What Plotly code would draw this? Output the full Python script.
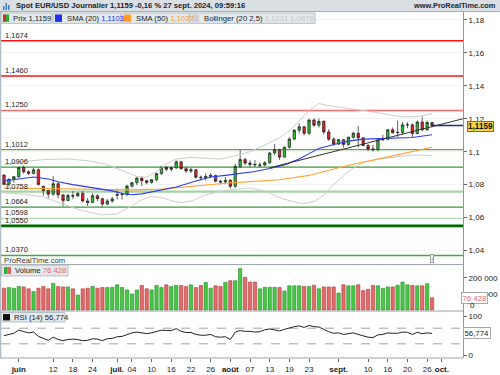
import numpy as np
import pandas as pd
import plotly.graph_objects as go

# ---------------- data ----------------
dates = pd.bdate_range("2024-05-29", "2024-09-27")

opens = [1.0858,1.0802,1.0833,1.0848,1.0904,1.0878,1.0868,1.0890,1.0790,1.0765,
         1.0742,1.0806,1.0738,1.0703,1.0734,1.0731,1.0747,1.0701,1.0692,1.0733,
         1.0715,1.0682,1.0701,1.0735,1.0740,1.0742,1.0791,1.0812,1.0840,1.0824,
         1.0813,1.0830,1.0867,1.0906,1.0893,1.0902,1.0938,1.0897,1.0883,1.0890,
         1.0845,1.0842,1.0850,1.0856,1.0821,1.0816,1.0826,1.0790,1.0911,1.0952,
         1.0931,1.0923,1.0917,1.0919,1.0933,1.0992,1.1012,1.0967,1.1027,1.1077,
         1.1130,1.1151,1.1112,1.1192,1.1161,1.1184,1.1120,1.1076,1.1047,1.1073,
         1.1044,1.1088,1.1112,1.1084,1.1038,1.1017,1.1012,1.1073,1.1076,1.1133,
         1.1116,1.1117,1.1163,1.1163,1.1110,1.1180,1.1133,1.1177]
highs = [1.0862,1.0838,1.0852,1.0908,1.0916,1.0888,1.0902,1.0898,1.0794,1.0768,
         1.0852,1.0815,1.0740,1.0745,1.0761,1.0752,1.0761,1.0719,1.0748,1.0740,
         1.0720,1.0712,1.0725,1.0776,1.0752,1.0800,1.0816,1.0845,1.0845,1.0829,
         1.0833,1.0872,1.0910,1.0910,1.0910,1.0948,1.0944,1.0906,1.0900,1.0894,
         1.0855,1.0869,1.0870,1.0860,1.0830,1.0846,1.0834,1.0926,1.1009,1.0962,
         1.0948,1.0949,1.0935,1.0942,1.0998,1.1047,1.1018,1.1030,1.1088,1.1137,
         1.1174,1.1156,1.1201,1.1202,1.1202,1.1190,1.1137,1.1088,1.1077,1.1077,
         1.1090,1.1120,1.1155,1.1086,1.1046,1.1042,1.1078,1.1102,1.1137,1.1147,
         1.1189,1.1180,1.1180,1.1172,1.1189,1.1214,1.1190,1.1180]
lows = [1.0796,1.0788,1.0812,1.0840,1.0866,1.0858,1.0862,1.0795,1.0732,1.0716,
        1.0733,1.0718,1.0668,1.0700,1.0712,1.0728,1.0694,1.0671,1.0688,1.0700,
        1.0666,1.0676,1.0690,1.0710,1.0710,1.0730,1.0782,1.0798,1.0791,1.0802,
        1.0806,1.0820,1.0860,1.0881,1.0880,1.0894,1.0890,1.0871,1.0870,1.0837,
        1.0825,1.0825,1.0840,1.0814,1.0801,1.0802,1.0776,1.0780,1.0900,1.0918,
        1.0906,1.0908,1.0905,1.0912,1.0926,1.0980,1.0950,1.0966,1.1018,1.1070,
        1.1110,1.1100,1.1100,1.1151,1.1146,1.1104,1.1066,1.1034,1.1040,1.1026,
        1.1036,1.1078,1.1026,1.1033,1.1003,1.1002,1.1003,1.1064,1.1072,1.1108,
        1.1090,1.1102,1.1142,1.1083,1.1106,1.1122,1.1128,1.1148]
closes = [1.0802,1.0833,1.0848,1.0904,1.0878,1.0868,1.0890,1.0801,1.0765,1.0742,
          1.0806,1.0738,1.0703,1.0734,1.0731,1.0747,1.0701,1.0692,1.0733,1.0715,
          1.0682,1.0701,1.0713,1.0740,1.0742,1.0791,1.0812,1.0840,1.0824,1.0813,
          1.0830,1.0867,1.0906,1.0893,1.0902,1.0938,1.0897,1.0883,1.0890,1.0845,
          1.0842,1.0850,1.0856,1.0821,1.0816,1.0826,1.0790,1.0911,1.0952,1.0931,
          1.0923,1.0921,1.0919,1.0933,1.0992,1.1012,1.0967,1.1027,1.1077,1.1130,
          1.1151,1.1112,1.1192,1.1161,1.1184,1.1120,1.1076,1.1047,1.1073,1.1044,
          1.1088,1.1112,1.1084,1.1038,1.1017,1.1012,1.1073,1.1076,1.1133,1.1116,
          1.1117,1.1163,1.1163,1.1110,1.1180,1.1133,1.1177,1.1159]
volumes = [136000,140000,136000,147000,144000,132000,115000,136000,147000,132000,
           166000,147000,144000,144000,132000,93000,132000,136000,147000,136000,
           140000,140000,142000,157000,140000,125000,100000,125000,153000,132000,
           125000,153000,140000,157000,147000,153000,153000,147000,157000,140000,
           153000,172000,136000,151000,147000,172000,183000,183000,259000,204000,
           174000,174000,132000,142000,142000,142000,140000,119000,151000,151000,
           151000,147000,147000,155000,132000,144000,144000,144000,106000,157000,
           151000,151000,157000,121000,129000,153000,151000,134000,144000,144000,
           155000,174000,157000,153000,151000,151000,164000,76428]
rsi = [51,54,57,65,61,58,60,49,44,39,
       47,41,38,41,42,41,38,39,43,42,
       38,43,44,48,49,54,58,60,58,56,
       58,62,65,64,64,69,62,59,59,54,
       52,52,54,48,47,48,41,60,64,62,
       62,60,61,66,68,66,63,67,71,74,
       76,72,77,74,73,66,61,57,58,54,
       56,58,54,50,47,46,53,54,58,57,
       57,60,59.5,54,59.5,56,58,56.774]

sma20_i = [0,3,6,9,11,14,16,19,22,24,26,28,32,35,39,42,45,48,51,54,57,60,62,64,67,70,73,76,80,83,87]
sma20_v = [1.0822,1.0836,1.0846,1.0834,1.0818,1.0800,1.0790,1.0776,1.0762,1.0746,1.0739,1.0744,1.0768,1.0786,1.0822,1.0846,1.0856,1.0866,1.0880,1.0898,1.0920,1.0955,1.0985,1.1020,1.1044,1.1064,1.1076,1.1080,1.1082,1.1086,1.1103]
sma50_i = [0,10,20,26,32,38,45,50,56,62,66,70,76,82,87]
sma50_v = [1.0780,1.0776,1.0770,1.0768,1.0773,1.0790,1.0808,1.0818,1.0830,1.0856,1.0885,1.0918,1.0955,1.0992,1.1027]
bbu_i = [0,4,8,13,17,21,24,27,29,31,33,35,38,41,44,47,50,53,56,58,60,62,64,66,70,74,78,81,84,87]
bbu_v = [1.0920,1.0940,1.0952,1.0956,1.0945,1.0922,1.0885,1.0850,1.0845,1.0880,1.0925,1.0955,1.0965,1.0958,1.0955,1.0975,1.1000,1.1040,1.1085,1.1125,1.1190,1.1250,1.1292,1.1280,1.1262,1.1246,1.1225,1.1212,1.1212,1.1231]
bbl_i = [0,4,8,12,15,18,20,23,26,28,30,32,34,36,38,41,44,47,50,53,56,59,61,63,65,67,70,73,76,80,83,87]
bbl_v = [1.0750,1.0742,1.0725,1.0680,1.0650,1.0628,1.0616,1.0622,1.0672,1.0708,1.0728,1.0722,1.0703,1.0690,1.0700,1.0738,1.0758,1.0772,1.0780,1.0762,1.0720,1.0695,1.0684,1.0698,1.0735,1.0800,1.0880,1.0935,1.0955,1.0970,1.0980,1.0976]
trend_i = [54, 93.3]
trend_v = [1.0902, 1.1200]

levels = [1.1674, 1.1460, 1.1250, 1.1012, 1.0906, 1.0758, 1.0664, 1.0598, 1.0550, 1.0370]
level_colors = ["#ff1010", "#ff1010", "#ff6a6a", "#5aaa4a", "#3a9a3a", "#a5d2a5", "#3a9a3a", "#b5dcb5", "#006a00", "#44aa44"]
level_widths = [1.5, 1.5, 1.3, 1.3, 1.3, 2.2, 1.3, 2.0, 2.6, 1.3]
price_ticks = [1.04, 1.06, 1.08, 1.10, 1.12, 1.14, 1.16, 1.18]
vol_ticks = [100000, 200000]
rsi_ticks = [0, 100]
rsi_levels = [70, 30]

tick_dates = ["2024-06-03","2024-06-12","2024-06-18","2024-06-24","2024-07-01","2024-07-04",
              "2024-07-10","2024-07-16","2024-07-22","2024-07-26","2024-08-01","2024-08-07",
              "2024-08-13","2024-08-19","2024-08-23","2024-09-02","2024-09-10","2024-09-16",
              "2024-09-20","2024-09-26","2024-10-01"]
tick_text = ["<b>juin</b>","12","18","24","<b>juil.</b>","04","10","16","22","26","<b>août</b>",
             "07","13","19","23","<b>sept.</b>","10","16","20","26","<b>oct.</b>"]

sma20_last, sma50_last, bbu_last, bbl_last = 1.1103, 1.1027, 1.1231, 1.0976

# ---------------- geometry helpers ----------------
W, H = 500, 375
ML, MR, MT, MB = 1, 37, 12, 13
PW, PH = W - ML - MR, H - MT - MB
def fx(px):
    return (px - ML) / PW
def fy(py):
    return (H - MB - py) / PH

idx = np.arange(len(dates))
tick_pos = [int(np.busday_count(dates[0].date(), pd.Timestamp(d).date())) for d in tick_dates]
XR = [-0.61, 93.29]

def fr(v, n=4):
    return f"{v:.{n}f}".replace(".", ",")

FONT = "Liberation Sans, Arial, DejaVu Sans, sans-serif"
TXT = "#222222"

fig = go.Figure()

# Bollinger
fig.add_trace(go.Scatter(x=bbu_i, y=bbu_v, mode="lines", line=dict(color="#cdcdcd", width=1),
                         xaxis="x", yaxis="y", hoverinfo="skip", showlegend=False))
fig.add_trace(go.Scatter(x=bbl_i, y=bbl_v, mode="lines", line=dict(color="#cdcdcd", width=1),
                         xaxis="x", yaxis="y", hoverinfo="skip", showlegend=False))
# SMA 50 / 20
fig.add_trace(go.Scatter(x=sma50_i, y=sma50_v, mode="lines", line=dict(color="#ffa433", width=1.1),
                         xaxis="x", yaxis="y", hoverinfo="skip", showlegend=False))
fig.add_trace(go.Scatter(x=sma20_i, y=sma20_v, mode="lines", line=dict(color="#2b3cf0", width=1.1),
                         xaxis="x", yaxis="y", hoverinfo="skip", showlegend=False))
# trend line
fig.add_trace(go.Scatter(x=trend_i, y=trend_v, mode="lines", line=dict(color="#333333", width=1),
                         xaxis="x", yaxis="y", hoverinfo="skip", showlegend=False))
# candles
fig.add_trace(go.Candlestick(x=idx, open=opens, high=highs, low=lows, close=closes,
                             increasing=dict(fillcolor="#2fc02f", line=dict(color="#1c1c1c", width=0.7)),
                             decreasing=dict(fillcolor="#e22626", line=dict(color="#1c1c1c", width=0.7)),
                             whiskerwidth=0, xaxis="x", yaxis="y", hoverinfo="skip", showlegend=False))
# volume
up = [c >= o for o, c in zip(opens, closes)]
fig.add_trace(go.Bar(x=idx, y=volumes,
                     marker=dict(color=["#46c846" if u else "#e36a6a" for u in up],
                                 line=dict(color=["#2a8a2a" if u else "#b03a3a" for u in up], width=0.6)),
                     xaxis="x2", yaxis="y2", hoverinfo="skip", showlegend=False))
# RSI
fig.add_trace(go.Scatter(x=idx, y=rsi, mode="lines", line=dict(color="#222222", width=1),
                         xaxis="x3", yaxis="y3", hoverinfo="skip", showlegend=False))

shapes = []
annotations = []

# horizontal support / resistance levels
for lv, col, lw in zip(levels, level_colors, level_widths):
    shapes.append(dict(type="line", xref="paper", yref="y", x0=0, x1=1, y0=lv, y1=lv,
                       line=dict(color=col, width=lw), layer="below"))
    annotations.append(dict(xref="paper", yref="y", x=fx(3), y=lv, text=fr(lv), showarrow=False,
                            xanchor="left", yanchor="bottom", yshift=-1,
                            font=dict(size=7.5, color=TXT, family=FONT)))
# RSI dashed levels
for lv in rsi_levels:
    shapes.append(dict(type="line", xref="paper", yref="y3", x0=0, x1=1, y0=lv, y1=lv,
                       line=dict(color="#8a8a8a", width=0.8, dash="dash"), layer="below"))
# last price line
shapes.append(dict(type="line", xref="x", yref="y", x0=idx[-1], x1=XR[1], y0=closes[-1], y1=closes[-1],
                   line=dict(color="#1a2b99", width=1.5)))

# panel borders
for py in [267.5, 314.5, 362]:
    shapes.append(dict(type="line", xref="paper", yref="paper", x0=fx(0), x1=fx(463), y0=fy(py), y1=fy(py),
                       line=dict(color="#9aa4aa", width=1)))
shapes.append(dict(type="line", xref="paper", yref="paper", x0=fx(0.5), x1=fx(0.5), y0=fy(362), y1=fy(11),
                   line=dict(color="#b0bcc4", width=1.5)))

# header bar
shapes.append(dict(type="rect", xref="paper", yref="paper", x0=fx(-2), x1=fx(502), y0=fy(11.5), y1=fy(-2),
                   fillcolor="#d9dfe3", line=dict(width=0)))
shapes.append(dict(type="line", xref="paper", yref="paper", x0=fx(-2), x1=fx(502), y0=fy(11.5), y1=fy(11.5),
                   line=dict(color="#a4aeb4", width=1)))
for bx0, bx1, by0 in [(3, 4.5, 6), (5.5, 7, 3), (8, 9.5, 5)]:
    shapes.append(dict(type="rect", xref="paper", yref="paper", x0=fx(bx0), x1=fx(bx1), y0=fy(10), y1=fy(by0),
                       fillcolor="#3a7ed8", line=dict(width=0)))
chg = (closes[-1] - closes[-2]) / closes[-2] * 100
annotations.append(dict(xref="paper", yref="paper", x=fx(14), y=fy(5.8), xanchor="left", yanchor="middle",
                        text=f"<b>Spot EUR/USD Journalier {fr(closes[-1])} {fr(chg, 2)} % 27 sept. 2024, 09:59:16</b>",
                        showarrow=False, font=dict(size=7.6, color="#1c2430", family=FONT)))
annotations.append(dict(xref="paper", yref="paper", x=fx(498), y=fy(5.8), xanchor="right", yanchor="middle",
                        text="<b>www.ProRealTime.com</b>", showarrow=False,
                        font=dict(size=7.4, color="#1c2430", family=FONT)))

# legend boxes (top)
def box(x0, x1, y0, y1):
    shapes.append(dict(type="rect", xref="paper", yref="paper", x0=fx(x0), x1=fx(x1), y0=fy(y1), y1=fy(y0),
                       fillcolor="#e3e9ed", line=dict(color="#b4bec4", width=1)))
def icon(x0, x1, y0, y1, col):
    shapes.append(dict(type="rect", xref="paper", yref="paper", x0=fx(x0), x1=fx(x1), y0=fy(y1), y1=fy(y0),
                       fillcolor=col, line=dict(width=0)))
def label(x, y, text):
    annotations.append(dict(xref="paper", yref="paper", x=fx(x), y=fy(y), xanchor="left", yanchor="middle",
                            text=text, showarrow=False, font=dict(size=7.7, color=TXT, family=FONT)))

box(1, 52, 13, 23.5); icon(3, 6, 14.5, 22, "#d92a2a"); icon(6, 9, 14.5, 22, "#2eae2e")
label(11, 18.5, f"Prix {fr(closes[-1])}")
box(53, 121, 13, 23.5); icon(55, 62, 14.5, 22, "#1f2ff0")
label(65, 18.5, f"SMA (20) <span style='color:#2030ee'>{fr(sma20_last)}</span>")
box(122, 189, 13, 23.5); icon(124, 131, 14.5, 22, "#ff9a22")
label(134, 18.5, f"SMA (50) <span style='color:#f59a2a'>{fr(sma50_last)}</span>")
box(190, 315, 13, 23.5); icon(192, 199, 14.5, 22, "#cfcfcf")
label(202, 18.5, f"Bollinger (20 2,5) <span style='color:#c4c4c4'>{fr(bbu_last)} {fr(bbl_last)}</span>")

# volume legend
box(1.5, 68, 268, 279); icon(4, 7.5, 270, 277, "#2eae2e"); icon(7.5, 11, 270, 277, "#e06060")
label(13, 273.5, f"Volume <span style='color:#e26a6a'>{volumes[-1]//1000} {volumes[-1]%1000:03d}</span>")
# RSI legend
box(1, 65, 316, 325.5); icon(3, 10, 317.5, 324, "#111111")
label(12, 320.8, f"RSI (14) {fr(rsi[-1], 3)}")

# footer text of price panel
annotations.append(dict(xref="paper", yref="paper", x=fx(2), y=fy(263), xanchor="left", yanchor="middle",
                        text="ProRealTime.com", showarrow=False, font=dict(size=7.7, color="#333333", family=FONT)))
annotations.append(dict(xref="paper", yref="paper", x=fx(432), y=fy(261.5), xanchor="center", yanchor="middle",
                        text="i", showarrow=False, font=dict(size=6, color="#666666", family=FONT),
                        bordercolor="#a0a0a0", borderwidth=1, borderpad=0.5, bgcolor="#ffffff"))

# right side value boxes
annotations.append(dict(xref="paper", yref="y", x=fx(466.5), y=closes[-1], xanchor="left", yanchor="middle",
                        yshift=-1, text=f"<b>{fr(closes[-1])}</b>", showarrow=False,
                        font=dict(size=8.2, color="#111111", family=FONT),
                        bgcolor="#f6d23c", bordercolor="#8c7000", borderwidth=1, borderpad=0))
annotations.append(dict(xref="paper", yref="y2", x=fx(461), y=volumes[-1], xanchor="left", yanchor="middle",
                        text=f"{volumes[-1]//1000} {volumes[-1]%1000:03d}", showarrow=False,
                        font=dict(size=7.8, color="#e26a6a", family=FONT),
                        bgcolor="#ffffff", bordercolor="#a8a8a8", borderwidth=1, borderpad=0.5))
annotations.append(dict(xref="paper", yref="y3", x=fx(463.5), y=rsi[-1], xanchor="left", yanchor="middle",
                        text=fr(rsi[-1], 3), showarrow=False,
                        font=dict(size=7.8, color="#222222", family=FONT),
                        bgcolor="#ffffff", bordercolor="#a8a8a8", borderwidth=1, borderpad=0.5))
annotations.append(dict(xref="paper", yref="y2", x=fx(468), y=0, xanchor="left", yanchor="middle", yshift=5,
                        text="0", showarrow=False, font=dict(size=8, color=TXT, family=FONT)))

axis_common = dict(showgrid=False, zeroline=False, fixedrange=True)
fig.update_layout(
    width=W, height=H, margin=dict(l=ML, r=MR, t=MT, b=MB),
    paper_bgcolor="#ffffff", plot_bgcolor="#ffffff",
    separators=", ", showlegend=False, bargap=0.32,
    font=dict(family=FONT, size=8, color=TXT),
    xaxis=dict(domain=[0, 1], anchor="y", range=XR, showticklabels=False,
               rangeslider=dict(visible=False), **axis_common),
    xaxis2=dict(domain=[0, 1], anchor="y2", range=XR, matches="x", showticklabels=False, **axis_common),
    xaxis3=dict(domain=[0, 1], anchor="y3", range=XR, matches="x", tickmode="array",
                tickvals=tick_pos, ticktext=tick_text, ticks="outside", ticklen=3, tickcolor="#666666",
                tickfont=dict(size=8, color=TXT, family=FONT), **axis_common),
    yaxis=dict(domain=[fy(267.5), 1], range=[1.03148, 1.18478], side="right", anchor="x",
               tickmode="array", tickvals=price_ticks,
               ticktext=[f"{v:g}".replace(".", ",") for v in price_ticks],
               ticks="outside", ticklen=3, tickcolor="#666666", showline=True, linecolor="#8e989e",
               tickfont=dict(size=8, color=TXT, family=FONT),
               showgrid=True, gridcolor="#f3f3f3", zeroline=False, fixedrange=True),
    yaxis2=dict(domain=[fy(314.5), fy(267.5)], range=[-6154, 283000], side="right", anchor="x2",
                tickmode="array", tickvals=vol_ticks,
                ticktext=[f"{v//1000} 000" for v in vol_ticks],
                ticks="outside", ticklen=3, tickcolor="#666666", showline=True, linecolor="#8e989e",
                tickfont=dict(size=8, color=TXT, family=FONT), **axis_common),
    yaxis3=dict(domain=[0, fy(314.5)], range=[-6.3, 113.9], side="right", anchor="x3",
                tickmode="array", tickvals=rsi_ticks, ticktext=[str(v) for v in rsi_ticks],
                ticks="outside", ticklen=3, tickcolor="#666666", showline=True, linecolor="#8e989e",
                tickfont=dict(size=8, color=TXT, family=FONT), **axis_common),
    shapes=shapes, annotations=annotations,
)

fig.write_html("out.html", config={"displayModeBar": False},
               post_script="document.body.style.margin='0';document.body.style.overflow='hidden';")
